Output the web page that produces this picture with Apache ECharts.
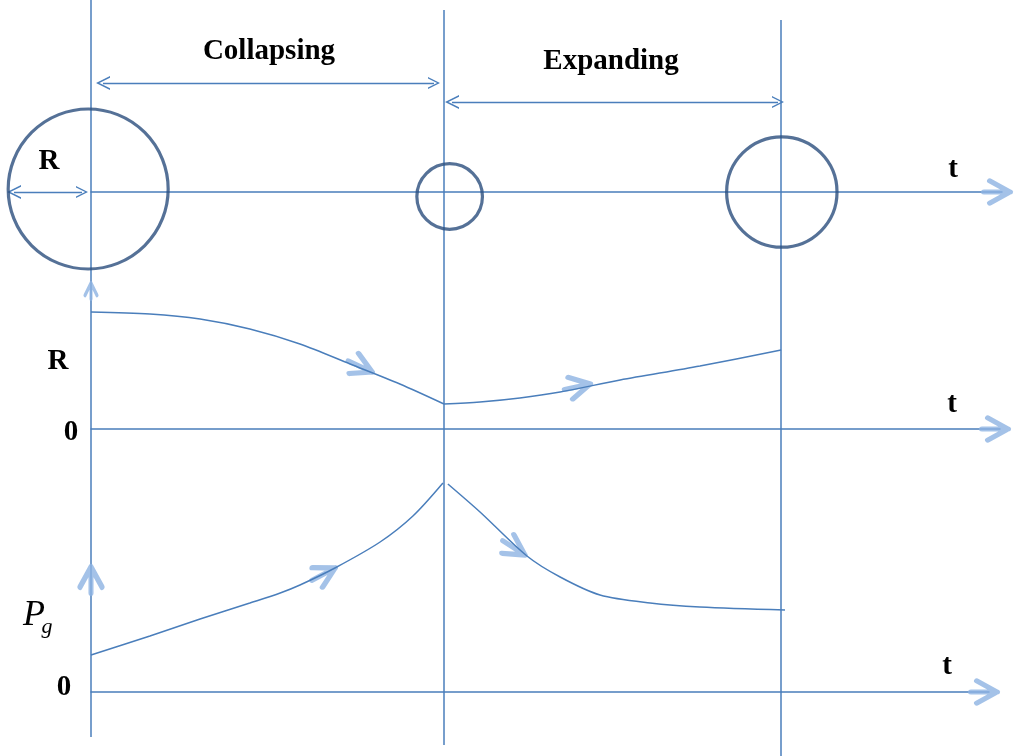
<!DOCTYPE html>
<html>
<head>
<meta charset="utf-8">
<title>bubble collapse</title>
<style>html,body{margin:0;padding:0;background:#fff;} #graph{width:1014px;height:756px;}</style>
</head>
<body>
<div id="graph"></div>
<script src="https://cdn.jsdelivr.net/npm/echarts@6/dist/echarts.min.js"></script>
<script>
// times of the three states (arbitrary time units): start, end of collapse, end of rebound
const eventTimes = [0, 10, 19.55];

// bubble sketches on the top row: where they sit and their radius relative to the first one
const bubbleT = [-0.08, 10.16, 19.57];
const bubbleY = [0.03, -0.045, 0];
const bubbleR = [1, 0.41, 0.69];

// radius R(t)
const rCollapseT = [0, 1.67, 3.09, 4.50, 5.92, 7.34, 8.75, 10];
const rCollapse  = [1.17, 1.15, 1.10, 1.00, 0.85, 0.65, 0.45, 0.25];
const rReboundT  = [10, 11.02, 12.15, 13.29, 14.99, 17.25, 19.55];
const rRebound   = [0.25, 0.27, 0.31, 0.37, 0.49, 0.63, 0.79];

// gas pressure Pg(t)
const pCollapseT = [0, 1.67, 3.09, 4.50, 5.36, 5.92, 6.91, 8.19, 9.12, 9.97];
const pCollapse  = [0.37, 0.56, 0.73, 0.89, 0.99, 1.07, 1.24, 1.50, 1.76, 2.09];
const pReboundT  = [10.11, 11.02, 12.35, 13.29, 14.42, 15.84, 17.25, 19.66];
const pRebound   = [2.08, 1.80, 1.36, 1.15, 0.97, 0.89, 0.85, 0.82];

// flow arrows on the curves: [t, value, direction in degrees]
const rArrows = [[7.63, 0.625, -25], [13.78, 0.423, 12]];
const pArrows = [[6.59, 1.179, 28], [11.98, 1.441, -33]];

(function () {
    let chart = echarts.init(document.getElementById('graph'));

    const K = 35.3, X0 = 91;              // px per time unit, px of t = 0
    const tAt = px => (px - X0) / K;
    const zip = (xs, ys) => xs.map((x, i) => [x, ys[i]]);

    const lineBlue = '#4a7ebb', headBlue = '#8db3e2', ringBlue = '#2b4d7d';
    const arrowHead = 'path://M0,11L26,11M6,0L26,11L6,22';
    const chevron = 'path://M7,0L0,12L1.7,12L7,2.9L12.3,12L14,12Z';
    const bold = 'bold 29px "Liberation Serif", "Times New Roman", serif';

    const headStyle = w => ({
        color: 'rgba(0,0,0,0)', borderColor: headBlue, borderWidth: w,
        borderCap: 'round', borderJoin: 'round'
    });

    const dataAxis = (idx, right) => ({
        type: 'value', gridIndex: idx, min: 0, max: tAt(right),
        axisLine: {show: true, onZero: true, lineStyle: {color: lineBlue, width: 1.5}},
        axisTick: {show: false}, axisLabel: {show: false}, splitLine: {show: false}
    });
    const hiddenY = (idx, min, max, inverse) => ({
        type: 'value', gridIndex: idx, min: min, max: max, inverse: !!inverse, show: false
    });

    const curve = (name, x, y, t, v) => ({
        name: name, type: 'line', xAxisIndex: x, yAxisIndex: y,
        data: zip(t, v), smooth: 0.3, showSymbol: false, silent: true,
        lineStyle: {color: lineBlue, width: 1.5}
    });

    const flowArrows = (x, y, list) => ({
        type: 'scatter', xAxisIndex: x, yAxisIndex: y, silent: true, clip: false,
        symbol: arrowHead, symbolSize: [26, 22], itemStyle: headStyle(5.5),
        data: list.map(a => ({value: [a[0], a[1]], symbolRotate: a[2]}))
    });

    const guideTop = [0, 10, 20], guideBottom = [737, 745, 756];

    const labels = [
        ['Collapsing', 269, 52, bold],
        ['Expanding', 611, 62, bold],
        ['R', 49, 162, bold],
        ['t', 953, 170, bold],
        ['R', 58, 362, bold],
        ['0', 71, 433, bold],
        ['t', 952, 405, bold],
        ['0', 64, 688, bold],
        ['t', 947, 667, bold],
        ['P', 34, 616, 'italic 36px "Liberation Serif", "Times New Roman", serif'],
        ['g', 47, 627, 'italic 22px "Liberation Serif", "Times New Roman", serif']
    ];

    chart.setOption({
        animation: false,
        backgroundColor: '#fff',
        grid: [
            {left: 0, right: 0, top: 0, bottom: 0},
            {left: X0, right: 1014 - 1002, top: 92, height: 200},
            {left: X0, right: 1014 - 1000, top: 279, height: 150},
            {left: X0, right: 1014 - 989, top: 442, height: 250}
        ],
        xAxis: [
            {type: 'value', gridIndex: 0, min: tAt(0), max: tAt(1014), show: false},
            dataAxis(1, 1002),
            dataAxis(2, 1000),
            dataAxis(3, 989)
        ],
        yAxis: [
            hiddenY(0, 0, 756, true),
            hiddenY(1, -1, 1),
            hiddenY(2, 0, 1.5),
            hiddenY(3, 0, 2.5)
        ],
        graphic: labels.map(l => ({
            type: 'text', x: l[1], y: l[2], silent: true,
            style: {text: l[0], font: l[3], fill: '#000', align: 'center', verticalAlign: 'middle'}
        })),
        series: [
            // vertical guides at the three states
            {
                type: 'lines', coordinateSystem: 'cartesian2d', xAxisIndex: 0, yAxisIndex: 0,
                silent: true, symbol: 'none',
                lineStyle: {color: lineBlue, width: 1.5, opacity: 1},
                data: eventTimes.map((t, i) => ({coords: [[t, guideTop[i]], [t, guideBottom[i]]]}))
            },
            // span arrows: collapsing, expanding, radius
            {
                type: 'lines', coordinateSystem: 'cartesian2d', xAxisIndex: 0, yAxisIndex: 0,
                silent: true, symbol: [chevron, chevron], symbolSize: [14, 12],
                lineStyle: {color: lineBlue, width: 1.3, opacity: 1},
                data: [
                    {coords: [[tAt(103), 83], [tAt(434), 83]]},
                    {coords: [[tAt(452), 102], [tAt(778), 102]]},
                    {coords: [[tAt(14), 192], [tAt(82), 192]]}
                ]
            },
            // y-axis arrow heads on the left guide
            {
                type: 'scatter', xAxisIndex: 0, yAxisIndex: 0, silent: true, clip: false,
                symbol: arrowHead,
                data: [
                    {value: [0, 291], symbolSize: [16, 12], symbolRotate: 90, itemStyle: headStyle(3.5)},
                    {value: [0, 580], symbolSize: [26, 22], symbolRotate: 90, itemStyle: headStyle(5.5)}
                ]
            },
            // bubbles
            {
                type: 'scatter', xAxisIndex: 1, yAxisIndex: 1, silent: true, clip: false,
                symbol: 'circle',
                symbolSize: v => v[2] * 160,
                itemStyle: {color: 'rgba(0,0,0,0)', borderColor: ringBlue, borderWidth: 3.2},
                data: bubbleT.map((t, i) => [t, bubbleY[i], bubbleR[i]])
            },
            // t-axis arrow heads
            {type: 'scatter', xAxisIndex: 1, yAxisIndex: 1, silent: true, clip: false,
                symbol: arrowHead, symbolSize: [26, 22], itemStyle: headStyle(5.5), data: [[tAt(997), 0]]},
            {type: 'scatter', xAxisIndex: 2, yAxisIndex: 2, silent: true, clip: false,
                symbol: arrowHead, symbolSize: [26, 22], itemStyle: headStyle(5.5), data: [[tAt(995), 0]]},
            {type: 'scatter', xAxisIndex: 3, yAxisIndex: 3, silent: true, clip: false,
                symbol: arrowHead, symbolSize: [26, 22], itemStyle: headStyle(5.5), data: [[tAt(984), 0]]},
            // R(t)
            curve('R collapse', 2, 2, rCollapseT, rCollapse),
            curve('R rebound', 2, 2, rReboundT, rRebound),
            flowArrows(2, 2, rArrows),
            // Pg(t)
            curve('Pg collapse', 3, 3, pCollapseT, pCollapse),
            curve('Pg rebound', 3, 3, pReboundT, pRebound),
            flowArrows(3, 3, pArrows)
        ]
    });
})();
</script>
</body>
</html>
